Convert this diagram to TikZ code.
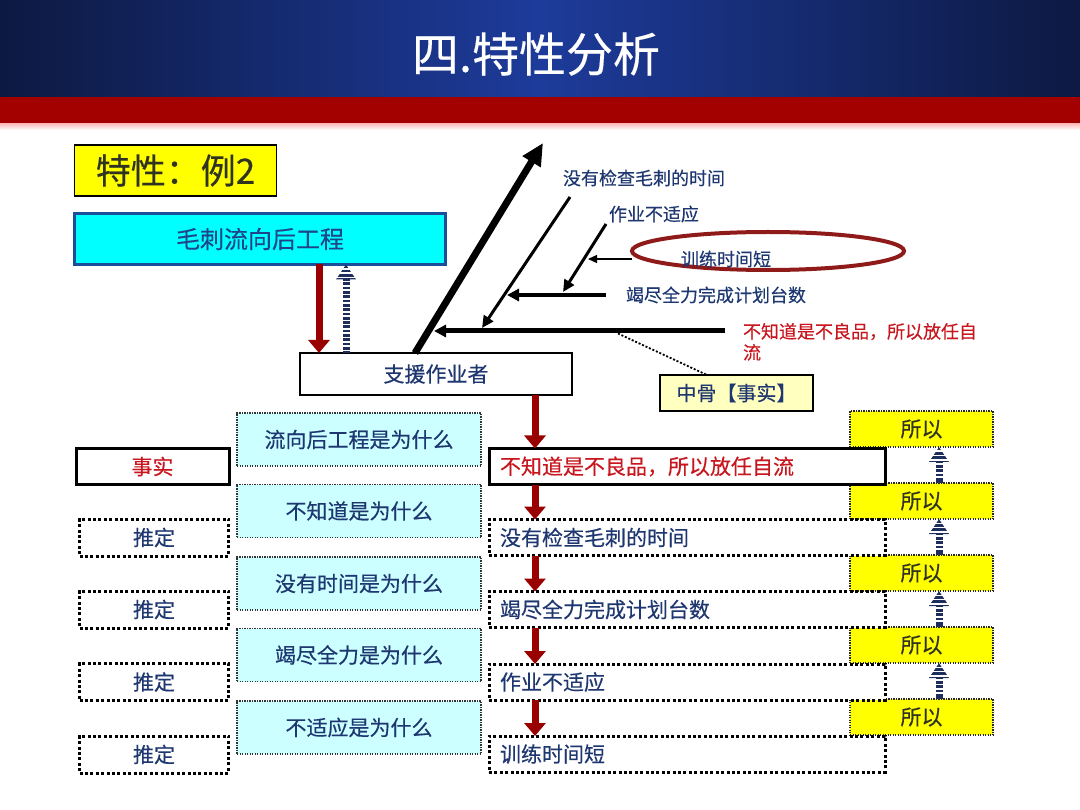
\documentclass[tikz,border=0pt]{standalone}
\usepackage{fontspec}
\setmainfont{Noto Sans CJK SC}[FakeBold=0.35]
\usetikzlibrary{arrows.meta,shapes.geometric,calc}
\definecolor{hdrDark}{HTML}{0D1942}
\definecolor{hdrMid}{HTML}{1D3B9A}
\definecolor{bandRed}{HTML}{A30000}
\definecolor{navyT}{HTML}{1E3770}
\definecolor{maoT}{HTML}{1F4488}
\definecolor{oliveT}{HTML}{2F3320}
\definecolor{arrRed}{HTML}{990000}
\definecolor{txtRed}{HTML}{C8161E}
\definecolor{ellRed}{HTML}{8E1A1A}
\definecolor{boxBlue}{HTML}{1B4F9C}
\definecolor{cyanF}{HTML}{00FFFF}
\definecolor{lcyan}{HTML}{CCFFFF}
\definecolor{yelF}{HTML}{FFFF00}
\definecolor{paleY}{HTML}{FFFFC0}
\definecolor{stripeN}{HTML}{1E2D5C}
\newcommand\fsz[1]{\fontsize{#1}{#1}\selectfont}
\newcommand\stripes[2]{\foreach \k in {1,...,#2}{\draw[white,line width=1.6pt] ($(#1)+(-13,4.3*\k)$) -- ++(26,0);}}
\begin{document}
\begin{tikzpicture}[x=1pt,y=-1pt,
 every node/.style={inner sep=0pt,outer sep=0pt},
 whybox/.style={draw=black!80,line width=1.1pt,dash pattern=on 1.1pt off 1.4pt,fill=lcyan,minimum width=244pt,minimum height=53pt,text=navyT,font=\fsz{21}},
 guessbox/.style={draw=black,line width=3pt,dash pattern=on 3pt off 2.4pt,fill=white,minimum width=149pt,minimum height=37pt,text=navyT,font=\fsz{21}},
 factbox/.style={draw=black,line width=3pt,fill=white,minimum width=153pt,minimum height=36pt,text=txtRed,font=\fsz{21}},
 rbox/.style={draw=black,line width=3pt,dash pattern=on 3pt off 2.4pt,fill=white,minimum width=396pt,minimum height=36pt,text=navyT,font=\fsz{21}},
 rfact/.style={rbox,solid,text=txtRed},
 sobox/.style={draw=black!85,line width=1.1pt,dash pattern=on 1.1pt off 1.4pt,fill=yelF,minimum width=143pt,minimum height=36pt,text=oliveT,font=\fsz{21}},
 redarr/.style={draw=arrRed,line width=7pt,-{Triangle[width=21pt,length=13pt]}},
 stripearr/.style={draw=stripeN,line width=7pt,-{Triangle[width=19pt,length=15pt]}},
 boneA/.style={draw=black,-{Triangle[width=12pt,length=12pt]}},
 fishlbl/.style={text=navyT,font=\fsz{18}},
]
\useasboundingbox (0,0) rectangle (1080,810);
% header
\shade[left color=hdrDark,right color=hdrDark,middle color=hdrMid] (0,0) rectangle (1080,97);
\fill[bandRed] (0,97) rectangle (1080,124);
\shade[top color=red!25!white,bottom color=white] (0,124) rectangle (1080,130);
\node[text=white,font=\fsz{47}] (title) at (536,54) {四.特性分析};

% top boxes
\node[draw=black,line width=1.5pt,fill=yelF,minimum width=202pt,minimum height=51pt,text=oliveT,font=\fsz{35}] (tx) at (175.5,170.5) {特性：例2};
\node[draw=boxBlue,line width=3pt,fill=cyanF,minimum width=371pt,minimum height=51pt,text=maoT,font=\fsz{24}] (mao) at (260,239) {毛刺流向后工程};
\node[draw=black,line width=2.5pt,fill=white,minimum width=272pt,minimum height=42pt,text=navyT,font=\fsz{21}] (zhi) at (436,374) {支援作业者};

\draw[redarr] (mao.south -| 319,0) -- (zhi.north -| 319,0);
\draw[stripearr] (zhi.north -| 346,0) -- (mao.south -| 346,0);
\coordinate (s0) at (mao.south -| 346,0);
\stripes{s0}{20}

% fishbone
\coordinate (spTip) at (543,143);
\coordinate (b1R) at (725,331);
\coordinate (b1L) at (434,331);
\coordinate (d1T) at (570,197);
\coordinate (d1B) at (482,328);
\coordinate (b2R) at (606,295);
\coordinate (b2L) at (507,295);
\coordinate (d2T) at (606,224);
\coordinate (d2B) at (563,292);
\coordinate (eA) at (588,259);
\coordinate (b1D) at (618,333.5);

\draw[draw=black,line width=7pt,-{Triangle[width=20pt,length=22pt]}] (zhi.north -| 415,0) -- (spTip);
\draw[boneA,line width=5pt] (b1R) -- (b1L);
\draw[boneA,line width=3pt,-{Triangle[width=11pt,length=12pt]}] (d1T) -- (d1B);
\draw[boneA,line width=4pt] (b2R) -- (b2L);
\draw[boneA,line width=3pt,-{Triangle[width=11pt,length=12pt]}] (d2T) -- (d2B);

\node[ellipse,draw=ellRed,line width=4pt,minimum width=272pt,minimum height=38pt] (ell) at (768,251) {};
\draw[black,line width=1.3pt,-{Triangle[width=8pt,length=9pt]}] (ell.west |- 0,259) -- (eA);
\node[fishlbl] (tl) at (726,259) {训练时间短};

\node[fishlbl] (l1) at (644,178) {没有检查毛刺的时间};
\node[fishlbl] (l2) at (654,214) {作业不适应};
\node[fishlbl,anchor=west] (l3) at (626,295) {竭尽全力完成计划台数};
\node[text=txtRed,font=\fontsize{18}{21}\selectfont,align=left,anchor=north west] (l4) at (743,323) {不知道是不良品，所以放任自\\流};

\node[draw=black,line width=2.5pt,fill=paleY,minimum width=153pt,minimum height=36pt,text=navyT,font=\fsz{20}] (zg) at (736.5,393) {中骨【事实】};
\draw[black,line width=1.8pt,dash pattern=on 2pt off 1.8pt] (b1D) -- (zg.north -| 707,0);

% left column
\node[factbox] (f1) at (152.5,466.5) {事实};
\node[guessbox] (g1) at (154,537.5) {推定};
\node[guessbox] (g2) at (154,609.5) {推定};
\node[guessbox] (g3) at (154,682) {推定};
\node[guessbox] (g4) at (154,754.5) {推定};

% middle column
\node[whybox] (w1) at (359,439.5) {流向后工程是为什么};
\node[whybox] (w2) at (359,511) {不知道是为什么};
\node[whybox] (w3) at (359,583.5) {没有时间是为什么};
\node[whybox] (w4) at (359,655) {竭尽全力是为什么};
\node[whybox] (w5) at (359,727.5) {不适应是为什么};

% so boxes
\node[sobox] (so1) at (921.5,429) {所以};
\node[sobox] (so2) at (921.5,501) {所以};
\node[sobox] (so3) at (921.5,573) {所以};
\node[sobox] (so4) at (921.5,645) {所以};
\node[sobox] (so5) at (921.5,717) {所以};

% right column
\node[rfact] (r1) at (687,466.5) {\makebox[374pt][l]{不知道是不良品，所以放任自流}};
\node[rbox] (r2) at (687,537.5) {\makebox[374pt][l]{没有检查毛刺的时间}};
\node[rbox] (r3) at (687,609.5) {\makebox[374pt][l]{竭尽全力完成计划台数}};
\node[rbox] (r4) at (687,682) {\makebox[374pt][l]{作业不适应}};
\node[rbox] (r5) at (687,754) {\makebox[374pt][l]{训练时间短}};

\draw[redarr] (zhi.south -| 535,0) -- (r1.north -| 535,0);
\draw[redarr] (r1.south -| 535,0) -- (r2.north -| 535,0);
\draw[redarr] (r2.south -| 535,0) -- (r3.north -| 535,0);
\draw[redarr] (r3.south -| 535,0) -- (r4.north -| 535,0);
\draw[redarr] (r4.south -| 535,0) -- (r5.north -| 535,0);

% striped arrows between so boxes
\draw[stripearr] (so2.north -| 939,0) -- (so1.south -| 939,0);
\draw[stripearr] (so3.north -| 939,0) -- (so2.south -| 939,0);
\draw[stripearr] (so4.north -| 939,0) -- (so3.south -| 939,0);
\draw[stripearr] (so5.north -| 939,0) -- (so4.south -| 939,0);
\coordinate (t1) at (so1.south -| 939,0);
\coordinate (t2) at (so2.south -| 939,0);
\coordinate (t3) at (so3.south -| 939,0);
\coordinate (t4) at (so4.south -| 939,0);
\stripes{t1}{7}
\stripes{t2}{7}
\stripes{t3}{7}
\stripes{t4}{7}
\end{tikzpicture}
\end{document}
